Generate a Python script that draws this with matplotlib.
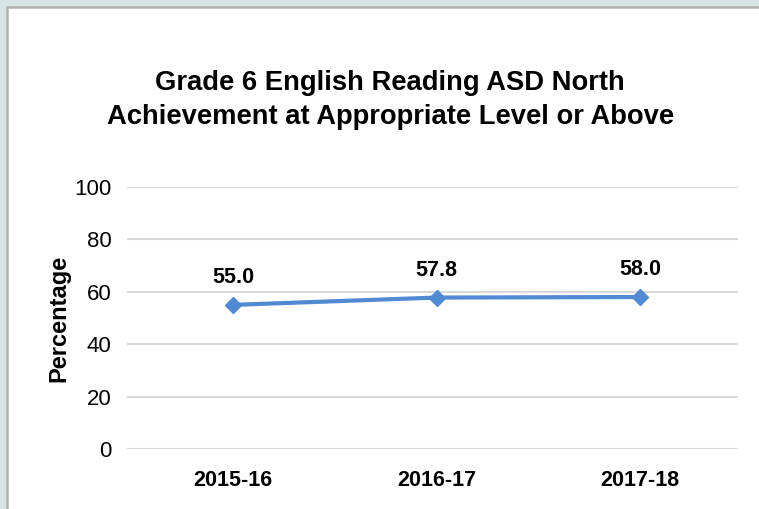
import matplotlib.pyplot as plt
from matplotlib.patches import Rectangle

years = ["2015-16", "2016-17", "2017-18"]
pct = [55.0, 57.8, 58.0]
y_ticks = [0, 20, 40, 60, 80, 100]

plt.rcParams['font.family'] = ['Liberation Sans', 'DejaVu Sans']

fig = plt.figure(figsize=(7.59, 5.09), dpi=100)
fig.patch.set_facecolor('#d6e4e6')

# white chart area with grey frame on top/left
fig.patches.append(Rectangle((7 / 759, -0.01), 1.0, 1 - 7 / 509 + 0.01,
                             transform=fig.transFigure, facecolor='white',
                             edgecolor='#b3b3b3', linewidth=1.8, zorder=-5))

ax = fig.add_axes([127 / 759, 1 - 449 / 509, 611 / 759, 262 / 509])
ax.set_facecolor('none')

x = range(len(years))
ax.plot(x, pct, color='#5189d3', linewidth=3, marker='D', markersize=8,
        solid_capstyle='round', zorder=3)

for xi, v in zip(x, pct):
    ax.annotate(f"{v:.1f}", (xi, v), xytext=(0, 12), textcoords='offset points',
                ha='center', va='bottom', fontsize=15.5, fontweight='bold')

ax.set_xlim(-0.52, 2.48)
ax.set_ylim(0, 100)
ax.set_yticks(y_ticks)
ax.set_xticks(list(x))
ax.set_xticklabels(years, fontsize=15.5, fontweight='bold')
ax.set_yticklabels([str(t) for t in y_ticks], fontsize=16)
ax.tick_params(axis='y', length=0, pad=11)
ax.tick_params(axis='x', length=0, pad=15)
ax.grid(axis='y', color='#d9d9d9', linewidth=1.5)
ax.set_axisbelow(True)
for s in ax.spines.values():
    s.set_visible(False)

ax.set_ylabel("Percentage", fontsize=17, fontweight='bold')
ax.yaxis.set_label_coords(-0.092, 0.5)

fig.text(0.514, 1 - 100 / 509,
         "Grade 6 English Reading ASD North\nAchievement at Appropriate Level or Above",
         ha='center', va='center', fontsize=19.7, fontweight='bold', linespacing=1.45)

fig.savefig("out.png", dpi=100, facecolor=fig.get_facecolor())
